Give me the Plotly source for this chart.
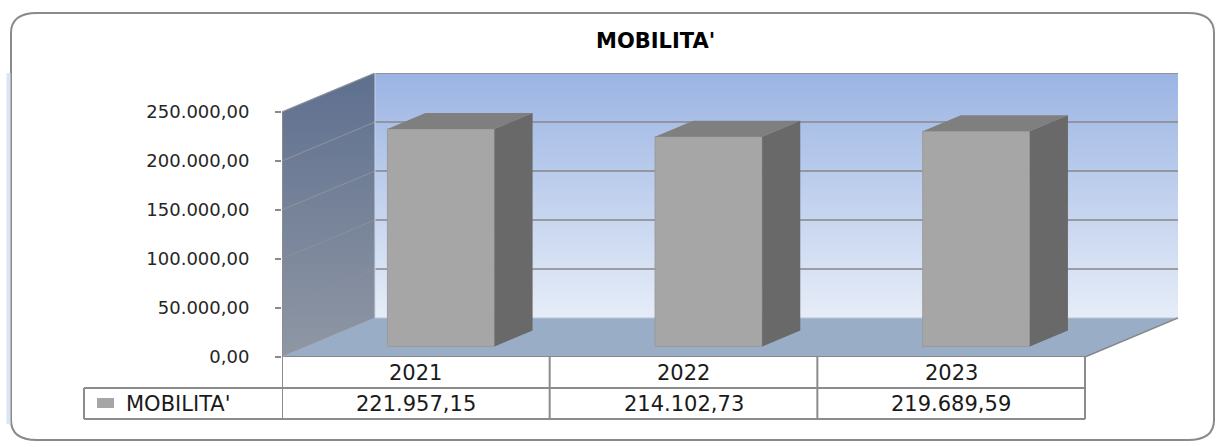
import plotly.graph_objects as go

# ---------------- data ----------------
categories = ["2021", "2022", "2023"]
series_name = "MOBILITA'"
values = [221957.15, 214102.73, 219689.59]
tick_values = [0, 50000, 100000, 150000, 200000, 250000]
title_text = "MOBILITA'"

# ---------------- helpers ----------------
def it_fmt(v):
    s = f"{v:,.2f}"
    return s.replace(",", "#").replace(".", ",").replace("#", ".")

W, H = 1223, 447
ML, MR, MT, MB = 282, 45, 73, 90
PW, PH = W - ML - MR, H - MT - MB

def px(x):  # pixel x -> paper
    return (x - ML) / PW

def py(y):  # pixel y -> paper
    return (H - MB - y) / PH

# oblique depth offsets (in axis units)
DX = 0.3474
DY = 39800.0
YMAX = tick_values[-1]
BW = 0.4
D1, D2 = 0.27, 0.68
x0, x1 = -0.5, len(categories) - 0.5

GRID = "#878787"
fig = go.Figure()

def poly(xs, ys, color=None, grad=None, lw=0, lc=GRID, ax="x", ay="y"):
    kw = dict(x=xs + [xs[0]], y=ys + [ys[0]], mode="lines", fill="toself",
              line=dict(width=lw, color=lc), hoverinfo="skip", showlegend=False,
              xaxis=ax, yaxis=ay)
    if grad is not None:
        kw["fillgradient"] = dict(type="vertical", colorscale=grad)
        kw["fillcolor"] = grad[0][1]
    else:
        kw["fillcolor"] = color
    fig.add_trace(go.Scatter(**kw))

def line(xs, ys, color=GRID, w=1.5):
    fig.add_trace(go.Scatter(x=xs, y=ys, mode="lines", line=dict(color=color, width=w),
                             hoverinfo="skip", showlegend=False))

# back wall
poly([x0 + DX, x1 + DX, x1 + DX, x0 + DX], [DY, DY, YMAX + DY, YMAX + DY],
     grad=[[0, "#E6EDF8"], [1, "#9BB4E3"]])
# left wall
poly([x0, x0, x0 + DX, x0 + DX], [0, YMAX, YMAX + DY, DY],
     grad=[[0, "#8F97A4"], [1, "#5E6F8F"]])
# floor
poly([x0, x1, x1 + DX, x0 + DX], [0, 0, DY, DY], color="#99ADC7")

# gridlines
for v in tick_values[1:]:
    line([x0 + DX, x1 + DX], [v + DY, v + DY])
    line([x0, x0 + DX], [v, v + DY], color="#8A8F99", w=1.2)
# edges
line([x0 + DX, x0 + DX], [DY, YMAX + DY], color="#C9D3E3", w=1)
line([x0 + DX, x1 + DX], [DY, DY], color="#B8C4D6", w=1)
line([x0, x1], [0, 0], color=GRID, w=2)
line([x1, x1 + DX], [0, DY], color=GRID, w=1.5)
line([x0, x0 + DX], [0, DY], color="#A0A8B5", w=1)

# bar front faces (on overlaying axes so they sit above the walls)
fig.add_trace(go.Bar(
    x=[i + D1 * DX for i in range(len(categories))], y=values,
    base=[D1 * DY] * len(values), width=BW,
    marker=dict(color="#A6A6A6", line=dict(color="#9A9A9A", width=1)),
    name=series_name, showlegend=False, hoverinfo="skip", xaxis="x2", yaxis="y2"))

# bar top and side faces (computed from values)
for i, v in enumerate(values):
    xl, xr = i - BW / 2, i + BW / 2
    poly([xl + D1 * DX, xr + D1 * DX, xr + D2 * DX, xl + D2 * DX],
         [v + D1 * DY, v + D1 * DY, v + D2 * DY, v + D2 * DY], color="#7F7F7F",
         ax="x2", ay="y2")
    poly([xr + D1 * DX, xr + D2 * DX, xr + D2 * DX, xr + D1 * DX],
         [D1 * DY, D2 * DY, v + D2 * DY, v + D1 * DY], color="#696969",
         ax="x2", ay="y2")

shapes = []
annotations = []
TL = "#8C8C8C"
# front edge of left wall continuing down into table
shapes.append(dict(type="line", xref="x", yref="paper", x0=x0, x1=x0,
                   y0=py(113), y1=py(419), line=dict(color=TL, width=2)))
# table
for k in range(1, len(categories) + 1):
    xb = x0 + k
    shapes.append(dict(type="line", xref="x", yref="paper", x0=xb, x1=xb,
                       y0=py(357), y1=py(419), line=dict(color=TL, width=2)))
for yy in (388, 419):
    shapes.append(dict(type="line", xref="paper", yref="paper", x0=px(84), x1=1 - DX / (x1 + DX - x0),
                       y0=py(yy), y1=py(yy), line=dict(color=TL, width=2)))
shapes.append(dict(type="line", xref="paper", yref="paper", x0=px(84), x1=px(84),
                   y0=py(388), y1=py(419), line=dict(color=TL, width=2)))
# legend swatch
shapes.append(dict(type="rect", xref="paper", yref="paper", x0=px(97), x1=px(114),
                   y0=py(408), y1=py(398), fillcolor="#A6A6A6", line=dict(width=0)))

TF = dict(family="DejaVu Sans", size=21, color="#1a1a1a")
for i, c in enumerate(categories):
    annotations.append(dict(x=i, y=py(373), xref="x", yref="paper", text=c,
                            showarrow=False, font=TF, xanchor="center", yanchor="middle"))
    annotations.append(dict(x=i, y=py(404), xref="x", yref="paper", text=it_fmt(values[i]),
                            showarrow=False, font=TF, xanchor="center", yanchor="middle"))
annotations.append(dict(x=px(124), y=py(404), xref="paper", yref="paper", text=series_name,
                        showarrow=False, font=TF, xanchor="left", yanchor="middle"))
# title
annotations.append(dict(x=px(655), y=py(41), xref="paper", yref="paper", text="<b>" + title_text + "</b>",
                        showarrow=False, font=dict(family="DejaVu Sans", size=21, color="#000000"),
                        xanchor="center", yanchor="middle"))

# outer rounded border
L, T, R, B = 11, 13, 1214, 440
rx, ry = 26, 20
pth = (f"M {px(L+rx)},{py(T)} L {px(R-rx)},{py(T)} Q {px(R)},{py(T)} {px(R)},{py(T+ry)} "
       f"L {px(R)},{py(B-ry)} Q {px(R)},{py(B)} {px(R-rx)},{py(B)} "
       f"L {px(L+rx)},{py(B)} Q {px(L)},{py(B)} {px(L)},{py(B-ry)} "
       f"L {px(L)},{py(T+ry)} Q {px(L)},{py(T)} {px(L+rx)},{py(T)} Z")
shapes.append(dict(type="path", xref="paper", yref="paper", path=pth,
                   line=dict(color="#8A8A8A", width=2), layer="below"))
# faint bluish glow on left edge
shapes.append(dict(type="line", xref="paper", yref="paper", x0=px(8.5), x1=px(8.5),
                   y0=py(T + ry + 40), y1=py(B - ry + 4), line=dict(color="#DCE6F3", width=4), layer="below"))

fig.update_layout(
    width=W, height=H,
    margin=dict(l=ML, r=MR, t=MT, b=MB),
    paper_bgcolor="white", plot_bgcolor="rgba(0,0,0,0)",
    shapes=shapes, annotations=annotations, showlegend=False,
    xaxis=dict(range=[x0, x1 + DX], visible=False, fixedrange=True),
    yaxis=dict(range=[0, YMAX + DY], showgrid=False, zeroline=False, showline=False,
               tickvals=tick_values, ticktext=[it_fmt(v) for v in tick_values],
               ticks="outside", ticklen=6, tickwidth=1.5, tickcolor="#8A8A8A",
               ticklabelstandoff=22,
               tickfont=dict(family="DejaVu Sans", size=18, color="#262626"), fixedrange=True),
    xaxis2=dict(range=[x0, x1 + DX], visible=False, overlaying="x", fixedrange=True),
    yaxis2=dict(range=[0, YMAX + DY], visible=False, overlaying="y", fixedrange=True),
)

fig.write_html("out.html", config={"displayModeBar": False},
               post_script="document.body.style.margin='0';")
